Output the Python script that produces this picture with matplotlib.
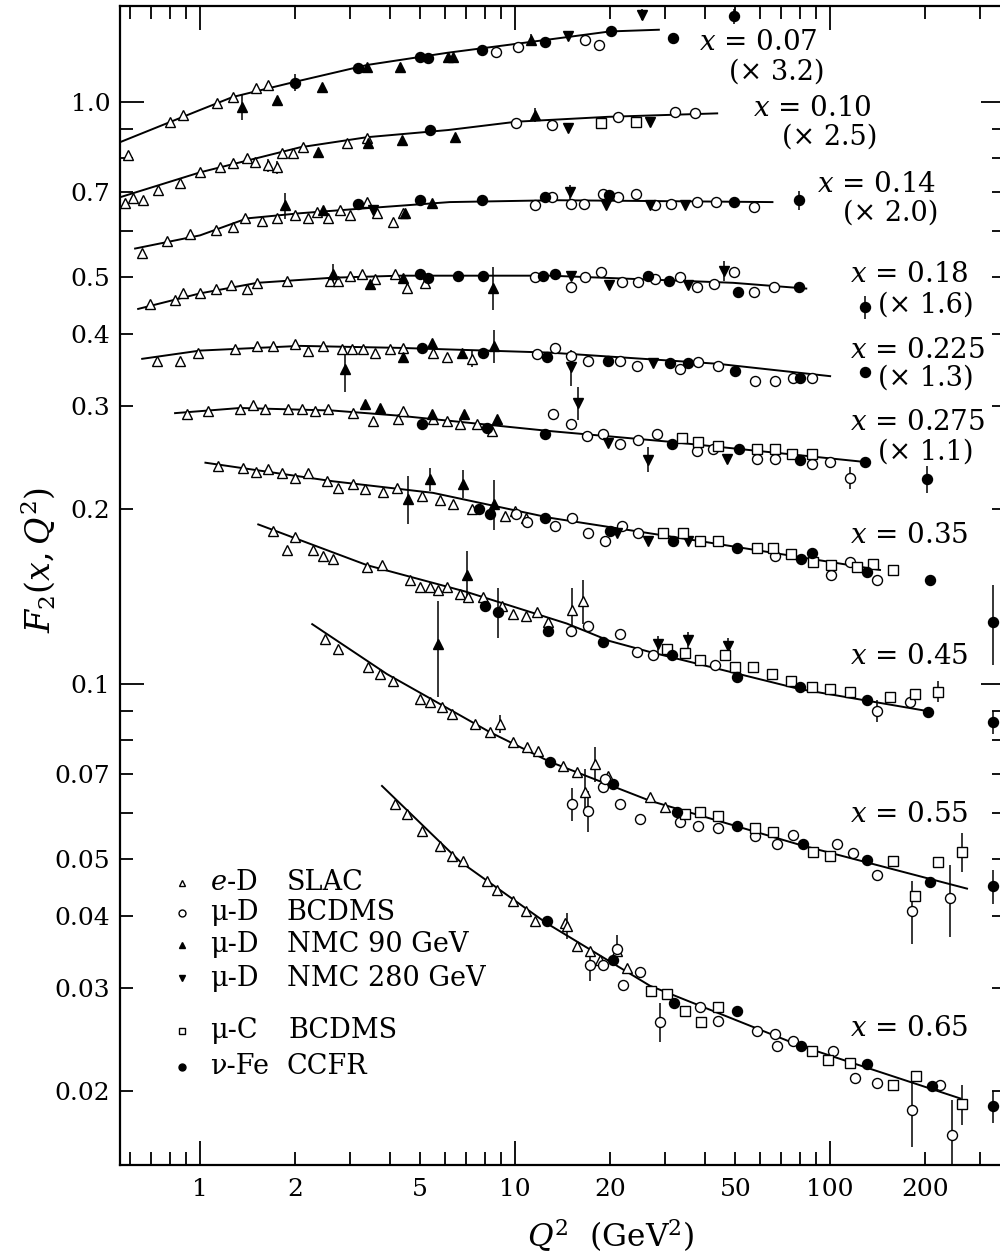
import matplotlib
matplotlib.use("Agg")
import matplotlib.pyplot as plt
from matplotlib.ticker import FixedLocator, FuncFormatter

plt.rcParams['font.family'] = ['DejaVu Serif']
plt.rcParams['mathtext.fontset'] = 'dejavuserif'

# ---------------- data ----------------
bin_x = ["0.07", "0.10", "0.14", "0.18", "0.225", "0.275", "0.35", "0.45", "0.55", "0.65"]
bin_scale = ["3.2", "2.5", "2.0", "1.6", "1.3", "1.1", None, None, None, None]

curve_q2 = [
    [0.557, 1.0, 1.27, 2.0, 3.4, 6.1, 10, 20, 28.6],
    [0.557, 1.0, 2.08, 3.39, 6.13, 10.1, 19.7, 43.8],
    [0.622, 1.0, 1.41, 2.08, 3.39, 6.2, 13.4, 65.6],
    [0.636, 1.0, 1.52, 2.64, 4.31, 12.9, 49.2, 84],
    [0.655, 1.0, 2.08, 4.31, 12.9, 43.8, 100],
    [0.833, 1.34, 2.64, 4.31, 12.9, 30.3, 126],
    [1.04, 2.64, 5.49, 12.9, 38.6, 144],
    [1.53, 3.39, 7.0, 14.6, 20, 26.8, 80, 212],
    [2.27, 3.92, 8.3, 12.9, 26.8, 80.3, 272],
    [3.78, 6.7, 12.6, 26.8, 80.3, 259],
]
curve_f2 = [
    [0.853, 0.969, 1.02, 1.083, 1.158, 1.215, 1.258, 1.322, 1.331],
    [0.686, 0.757, 0.836, 0.870, 0.895, 0.925, 0.943, 0.956],
    [0.560, 0.590, 0.631, 0.644, 0.657, 0.673, 0.678, 0.673],
    [0.441, 0.469, 0.489, 0.499, 0.503, 0.503, 0.489, 0.478],
    [0.362, 0.374, 0.381, 0.378, 0.371, 0.355, 0.338],
    [0.292, 0.298, 0.295, 0.289, 0.272, 0.261, 0.241],
    [0.240, 0.223, 0.213, 0.193, 0.176, 0.157],
    [0.188, 0.160, 0.144, 0.127, 0.1185, 0.1135, 0.098, 0.0895],
    [0.1267, 0.104, 0.0827, 0.0735, 0.063, 0.0529, 0.0445],
    [0.0668, 0.0495, 0.0388, 0.0303, 0.0239, 0.0194],
]

# e-D SLAC
slac_q2 = [
    [0.59, 0.80, 0.88, 1.13, 1.27, 1.50, 1.64],
    [0.578, 0.613, 0.659, 0.736, 0.864, 1.0, 1.157, 1.27, 1.41, 1.495, 1.64, 1.76, 1.82, 1.97, 2.12, 2.93, 3.39],
    [0.655, 0.786, 0.93, 1.12, 1.27, 1.39, 1.57, 1.76, 2.0, 2.2, 2.35, 2.55, 2.78, 3.0, 3.39, 3.65, 4.1, 4.4],
    [0.694, 0.833, 0.88, 1.0, 1.12, 1.25, 1.41, 1.52, 1.89, 2.58, 2.74, 3.0, 3.27, 3.6, 4.16, 4.54, 5.18],
    [0.73, 0.864, 0.985, 1.29, 1.52, 1.71, 2.0, 2.2, 2.46, 2.82, 3.04, 3.29, 3.6, 4.01, 4.4, 5.49, 6.08, 7.3],
    [0.91, 1.06, 1.34, 1.47, 1.61, 1.9, 2.1, 2.32, 2.55, 3.06, 3.54, 4.25, 4.4, 5.49, 6.08, 6.7, 7.57, 8.46],
    [1.14, 1.37, 1.5, 1.64, 1.82, 2.0, 2.2, 2.53, 2.74, 3.06, 3.34, 3.81, 4.22, 5.07, 5.78, 6.36, 7.3, 9.3, 10.0, 10.8],
    [1.7, 1.89, 2.0, 2.28, 2.46, 2.64, 3.39, 3.78, 4.64, 5.0, 5.37, 5.7, 6.08, 6.7, 7.1, 7.9, 9.1, 9.87, 10.8, 11.7, 12.7, 15.2, 16.4],
    [2.49, 2.74, 3.42, 3.73, 4.1, 5.0, 5.37, 5.86, 6.3, 7.46, 8.3, 8.95, 9.87, 10.9, 11.8, 14.2, 15.7, 16.7, 17.9, 19.7, 26.8, 29.9],
    [4.16, 4.54, 5.07, 5.78, 6.3, 6.83, 8.15, 8.77, 9.87, 10.8, 11.6, 14.4, 14.6, 15.7, 17.3, 18.6, 21, 22.6],
]
slac_f2 = [
    [0.81, 0.924, 0.95, 0.996, 1.02, 1.057, 1.07],
    [0.670, 0.683, 0.678, 0.705, 0.725, 0.757, 0.773, 0.785, 0.801, 0.788, 0.779, 0.773, 0.817, 0.817, 0.836, 0.850, 0.867],
    [0.551, 0.578, 0.594, 0.602, 0.609, 0.631, 0.624, 0.631, 0.639, 0.631, 0.646, 0.631, 0.651, 0.639, 0.672, 0.644, 0.621, 0.644],
    [0.450, 0.456, 0.469, 0.469, 0.478, 0.484, 0.478, 0.489, 0.493, 0.493, 0.493, 0.503, 0.507, 0.497, 0.507, 0.480, 0.489],
    [0.359, 0.359, 0.371, 0.377, 0.381, 0.381, 0.384, 0.374, 0.381, 0.377, 0.377, 0.377, 0.371, 0.377, 0.378, 0.371, 0.364, 0.362],
    [0.291, 0.295, 0.297, 0.301, 0.297, 0.297, 0.297, 0.295, 0.297, 0.292, 0.283, 0.285, 0.295, 0.285, 0.283, 0.280, 0.280, 0.272],
    [0.237, 0.235, 0.231, 0.234, 0.230, 0.226, 0.230, 0.223, 0.217, 0.221, 0.216, 0.214, 0.217, 0.210, 0.207, 0.204, 0.200, 0.194, 0.198, 0.193],
    [0.183, 0.17, 0.179, 0.17, 0.166, 0.164, 0.159, 0.16, 0.151, 0.147, 0.147, 0.145, 0.147, 0.143, 0.141, 0.141, 0.136, 0.132, 0.131, 0.133, 0.128, 0.134, 0.139],
    [0.1195, 0.1148, 0.107, 0.104, 0.101, 0.0942, 0.0931, 0.0913, 0.0889, 0.0854, 0.0827, 0.0854, 0.0795, 0.078, 0.0767, 0.0724, 0.0706, 0.0653, 0.0729, 0.0695, 0.064, 0.0615],
    [0.0622, 0.0598, 0.056, 0.0527, 0.0507, 0.0497, 0.0459, 0.0442, 0.0423, 0.0408, 0.0392, 0.0388, 0.0384, 0.0354, 0.0347, 0.0335, 0.0348, 0.0325],
]

# mu-D BCDMS
bcdms_d_q2 = [
    [8.67, 10.25, 16.7, 18.5],
    [10.1, 13.1, 21.2, 32.1, 37.3],
    [11.6, 13.1, 15.0, 16.5, 19.0, 21.2, 24.2, 27.9, 31.2, 37.7, 43.3, 57.4],
    [11.6, 15.0, 16.7, 18.7, 21.8, 24.5, 27.9, 33.3, 37.8, 42.8, 49.7, 57.4, 66.5],
    [11.7, 13.4, 15.0, 17.0, 21.5, 24.4, 33.4, 38.0, 44.1, 57.8, 67, 76.5, 87.6],
    [13.2, 15.0, 16.9, 19.0, 21.5, 24.6, 28.2, 37.8, 42.6, 58.6, 67, 87.6, 100, 116],
    [10.1, 10.9, 13.4, 15.2, 17.0, 19.3, 21.8, 24.6, 67, 101, 116, 141],
    [15, 17, 21.5, 24.4, 27.4, 43, 141, 179],
    [15.2, 17, 19, 21.5, 25, 19.3, 33.4, 38, 44.1, 57.8, 68, 76.5, 105, 118, 141, 182, 240],
    [17.3, 19, 21, 22, 25, 28.9, 38.6, 44.1, 58.6, 67, 68, 76.5, 102, 120, 141, 182, 224, 243],
]
bcdms_d_f2 = [
    [1.221, 1.245, 1.279, 1.254],
    [0.919, 0.913, 0.943, 0.962, 0.956],
    [0.665, 0.687, 0.669, 0.669, 0.696, 0.687, 0.696, 0.665, 0.669, 0.673, 0.673, 0.660],
    [0.50, 0.481, 0.50, 0.51, 0.49, 0.49, 0.497, 0.50, 0.481, 0.487, 0.51, 0.471, 0.481],
    [0.369, 0.378, 0.366, 0.359, 0.359, 0.352, 0.348, 0.357, 0.352, 0.332, 0.332, 0.336, 0.335],
    [0.291, 0.280, 0.267, 0.269, 0.258, 0.263, 0.269, 0.251, 0.253, 0.244, 0.244, 0.239, 0.241, 0.226],
    [0.196, 0.19, 0.187, 0.193, 0.182, 0.176, 0.187, 0.182, 0.166, 0.154, 0.162, 0.151],
    [0.1235, 0.126, 0.122, 0.1135, 0.112, 0.108, 0.090, 0.093],
    [0.0622, 0.0606, 0.0666, 0.0622, 0.0587, 0.0687, 0.058, 0.0569, 0.0565, 0.0547, 0.053, 0.055, 0.053, 0.0513, 0.0469, 0.0408, 0.0428],
    [0.0329, 0.0329, 0.035, 0.0304, 0.032, 0.0263, 0.0279, 0.0264, 0.0253, 0.025, 0.0239, 0.0244, 0.0234, 0.021, 0.0206, 0.0185, 0.0205, 0.0168],
]

# mu-D NMC 90 GeV
nmc90_q2 = [
    [1.36, 1.76, 2.44, 3.39, 4.31, 6.13, 6.37, 11.2],
    [2.37, 3.41, 4.37, 6.45, 11.6],
    [1.86, 2.46, 4.48, 5.45],
    [2.64, 3.46, 4.4, 8.5],
    [2.89, 4.4, 5.45, 6.8, 8.6],
    [3.34, 3.73, 5.45, 6.9, 8.77],
    [4.57, 5.37, 6.83, 8.6],
    [5.7, 7.03],
    [],
    [],
]
nmc90_f2 = [
    [0.98, 1.008, 1.06, 1.149, 1.149, 1.196, 1.197, 1.279],
    [0.820, 0.850, 0.860, 0.871, 0.950],
    [0.664, 0.651, 0.644, 0.670],
    [0.507, 0.487, 0.499, 0.480],
    [0.348, 0.364, 0.386, 0.370, 0.381],
    [0.303, 0.298, 0.291, 0.291, 0.285],
    [0.208, 0.225, 0.221, 0.204],
    [0.117, 0.154],
    [],
    [],
]

# mu-D NMC 280 GeV
nmc280_q2 = [
    [14.7, 25.2],
    [14.7, 26.8],
    [3.55, 14.9, 19.4, 26.8, 34.6],
    [15.0, 19.9, 35.5, 46.1],
    [15.0, 27.4],
    [15.8, 19.7, 26.4, 47],
    [21, 26.4, 35.3],
    [28.5, 35.3, 47.3],
    [],
    [],
]
nmc280_f2 = [
    [1.296, 1.413],
    [0.901, 0.925],
    [0.651, 0.70, 0.665, 0.665, 0.665],
    [0.503, 0.484, 0.484, 0.513],
    [0.35, 0.356],
    [0.304, 0.259, 0.243, 0.244],
    [0.182, 0.176, 0.176],
    [0.117, 0.119, 0.116],
    [],
    [],
]

# mu-C BCDMS
bcdms_c_q2 = [
    [],
    [18.7, 24.2],
    [],
    [],
    [],
    [33.8, 38, 44.1, 58.6, 67, 75.5, 87.6],
    [29.5, 34.2, 38.6, 44.1, 58.6, 66, 74.9, 88, 101, 122, 137, 158],
    [30.4, 34.5, 38.6, 46.4, 50, 56.9, 65.4, 74.9, 87.6, 100, 116, 155, 186, 220],
    [34.5, 38.6, 44.1, 57.8, 66, 88, 100, 158, 186, 220, 262],
    [27, 30.3, 34.5, 39, 44.1, 87.6, 98.5, 116, 158, 188, 262],
]
bcdms_c_f2 = [
    [],
    [0.919, 0.925],
    [],
    [],
    [],
    [0.265, 0.261, 0.256, 0.253, 0.253, 0.248, 0.248],
    [0.182, 0.182, 0.176, 0.176, 0.171, 0.171, 0.167, 0.162, 0.160, 0.159, 0.161, 0.157],
    [0.115, 0.113, 0.11, 0.112, 0.107, 0.107, 0.104, 0.101, 0.099, 0.098, 0.097, 0.095, 0.096, 0.097],
    [0.0599, 0.0603, 0.0592, 0.0565, 0.0557, 0.0515, 0.0507, 0.0497, 0.0433, 0.0495, 0.0515],
    [0.0297, 0.0293, 0.0274, 0.0263, 0.0279, 0.0234, 0.0226, 0.0223, 0.0205, 0.0212, 0.019],
]

# nu-Fe CCFR
ccfr_q2 = [
    [2.0, 3.17, 5.0, 5.3, 7.83, 12.4, 20.2, 31.7, 49.7],
    [5.37],
    [3.17, 5.0, 7.83, 12.4, 19.9, 49.7, 79.6],
    [5.0, 5.3, 6.6, 7.9, 12.3, 13.4, 26.5, 30.9, 51.1, 79.6, 129],
    [5.07, 7.9, 12.6, 19.7, 31, 35.3, 50, 80, 129],
    [5.07, 8.15, 12.4, 31.4, 51.2, 80, 129, 203],
    [7.7, 8.3, 12.4, 20, 31.8, 50.7, 81, 87.6, 131, 207, 329],
    [8.0, 8.84, 12.7, 19, 31.4, 50.7, 80.3, 131, 204, 329],
    [12.9, 20.4, 32.6, 50.7, 82, 131, 207, 329],
    [12.6, 20.4, 32, 50.7, 81, 131, 210, 329],
]
ccfr_f2 = [
    [1.08, 1.144, 1.196, 1.19, 1.229, 1.27, 1.322, 1.288, 1.403],
    [0.895],
    [0.667, 0.678, 0.678, 0.687, 0.691, 0.673, 0.678],
    [0.507, 0.499, 0.503, 0.503, 0.503, 0.506, 0.503, 0.493, 0.471, 0.481, 0.444],
    [0.378, 0.371, 0.364, 0.359, 0.356, 0.356, 0.345, 0.336, 0.343],
    [0.280, 0.275, 0.269, 0.258, 0.253, 0.243, 0.241, 0.225],
    [0.20, 0.196, 0.193, 0.183, 0.176, 0.171, 0.164, 0.168, 0.156, 0.151, 0.128],
    [0.136, 0.133, 0.1235, 0.1183, 0.112, 0.103, 0.099, 0.094, 0.0895, 0.086],
    [0.0735, 0.0673, 0.0603, 0.0571, 0.053, 0.0499, 0.0457, 0.0449],
    [0.0391, 0.0335, 0.0283, 0.0274, 0.0239, 0.0222, 0.0204, 0.0188],
]

# visible error bars (Q2, F2, +- error)
bar_q2 = [1.36, 2.0, 25.2, 49.7, 11.2,
          1.64, 1.76, 11.6,
          1.86, 14.9, 79.6,
          2.64, 8.5, 46.1, 129, 4.54,
          2.89, 8.6, 15.0, 7.3,
          15.8, 26.4, 116, 203,
          4.57, 5.37, 6.83, 8.6, 329,
          5.7, 7.03, 8.84, 15.2, 16.4, 28.5, 35.3, 47.3, 220, 141, 329,
          16.7, 17.9, 8.95, 15.2, 17, 182, 240, 262, 329,
          17.3, 21, 28.9, 182, 243, 262, 329, 14.6]
bar_f2 = [0.98, 1.08, 1.413, 1.403, 1.279,
          0.779, 0.773, 0.950,
          0.664, 0.70, 0.678,
          0.507, 0.480, 0.513, 0.444, 0.480,
          0.348, 0.381, 0.35, 0.362,
          0.304, 0.243, 0.226, 0.225,
          0.208, 0.225, 0.221, 0.204, 0.128,
          0.117, 0.154, 0.133, 0.134, 0.139, 0.117, 0.119, 0.116, 0.097, 0.090, 0.086,
          0.0653, 0.0729, 0.0854, 0.0622, 0.0606, 0.0408, 0.0428, 0.0515, 0.0449,
          0.0329, 0.035, 0.0263, 0.0185, 0.0168, 0.019, 0.0188, 0.0384]
bar_err = [0.05, 0.035, 0.03, 0.04, 0.03,
           0.02, 0.02, 0.025,
           0.035, 0.02, 0.025,
           0.02, 0.04, 0.02, 0.02, 0.012,
           0.03, 0.025, 0.025, 0.012,
           0.02, 0.012, 0.01, 0.012,
           0.02, 0.01, 0.012, 0.02, 0.02,
           0.022, 0.015, 0.013, 0.012, 0.012, 0.004, 0.004, 0.004, 0.004, 0.004, 0.004,
           0.006, 0.005, 0.003, 0.004, 0.005, 0.005, 0.006, 0.004, 0.003,
           0.002, 0.002, 0.002, 0.0025, 0.0025, 0.0015, 0.0012, 0.002]

legend_col1 = [r"$e$-D", "\u03bc-D", "\u03bc-D", "\u03bc-D", "\u03bc-C", "\u03bd-Fe"]
legend_col2 = ["SLAC", "BCDMS", "NMC 90 GeV", "NMC 280 GeV", "BCDMS", "CCFR"]

x_major = [1, 10, 100]
x_minor_labels = [2, 5, 20, 50, 200]
y_major = [0.1, 1.0]
y_minor_labels = [0.02, 0.03, 0.04, 0.05, 0.07, 0.2, 0.3, 0.4, 0.5, 0.7]

# ---------------- figure ----------------
W, H = 1000, 1255
fig = plt.figure(figsize=(W / 100, H / 100), dpi=100)
ax = fig.add_axes([120 / W, 1 - 1165 / H, 885 / W, (1165 - 6) / H])
ax.set_xscale('log')
ax.set_yscale('log')
ax.set_xlim(0.557, 359)
ax.set_ylim(0.01491, 1.462)

for s in ax.spines.values():
    s.set_linewidth(1.6)

styles = [
    (slac_q2, slac_f2, dict(marker='^', mfc='white', mec='black', ms=6.8, mew=1.0)),
    (bcdms_d_q2, bcdms_d_f2, dict(marker='o', mfc='white', mec='black', ms=7.2, mew=1.0)),
    (nmc90_q2, nmc90_f2, dict(marker='^', mfc='black', mec='black', ms=7.0, mew=1.0)),
    (nmc280_q2, nmc280_f2, dict(marker='v', mfc='black', mec='black', ms=7.0, mew=1.0)),
    (bcdms_c_q2, bcdms_c_f2, dict(marker='s', mfc='white', mec='black', ms=7.2, mew=1.0)),
    (ccfr_q2, ccfr_f2, dict(marker='o', mfc='black', mec='black', ms=7.2, mew=1.0)),
]

for i in range(len(bin_x)):
    ax.plot(curve_q2[i], curve_f2[i], color='black', lw=1.4, zorder=2)

ax.errorbar(bar_q2, bar_f2, yerr=bar_err, fmt='none', ecolor='black', elinewidth=1.1, capsize=0, zorder=2.5)

for qs, fs, st in styles:
    for i in range(len(bin_x)):
        if qs[i]:
            ax.plot(qs[i], fs[i], linestyle='none', zorder=3, **st)

# ticks
ax.xaxis.set_major_locator(FixedLocator(x_major))
ax.xaxis.set_major_formatter(FuncFormatter(lambda v, p: f"{v:g}"))
xminor = [m * d for d in (0.1, 1, 10, 100) for m in range(2, 10) if 0.55 < m * d < 360]
ax.xaxis.set_minor_locator(FixedLocator(xminor))
ax.xaxis.set_minor_formatter(FuncFormatter(
    lambda v, p: f"{v:g}" if any(abs(v - t) < 1e-6 * t for t in x_minor_labels) else ""))

ax.yaxis.set_major_locator(FixedLocator(y_major))
ax.yaxis.set_major_formatter(FuncFormatter(lambda v, p: f"{v:.1f}"))
yminor = [m * d for d in (0.01, 0.1, 1) for m in range(2, 10) if 0.0149 < m * d < 1.46]
ax.yaxis.set_minor_locator(FixedLocator(yminor))
ax.yaxis.set_minor_formatter(FuncFormatter(
    lambda v, p: (f"{v:.2f}" if v < 0.1 else f"{v:.1f}") if any(abs(v - t) < 1e-6 for t in y_minor_labels) else ""))

ax.tick_params(which='both', direction='in', top=True, right=True, labelsize=18, width=1.3)
ax.tick_params(which='major', length=17)
ax.tick_params(which='minor', length=9.5)
ax.tick_params(axis='x', which='both', pad=9)
ax.tick_params(axis='y', which='both', pad=7)


def ftxt(x, y, s, **kw):
    fig.text(x / W, 1 - y / H, s, **kw)


# bin labels
lab_pos = [(699, 43), (753, 108), (817, 185), (850, 275), (850, 350), (850, 423),
           (850, 535), (850, 657), (850, 815), (850, 1028)]
mult_pos = [(729, 72), (782, 137), (843, 213), (878, 305), (878, 378), (878, 452)]
for i, lab in enumerate(bin_x):
    x, y = lab_pos[i]
    ftxt(x, y, r"$x$ = " + lab, fontsize=20, ha='left', va='center')
    if bin_scale[i] is not None:
        mx, my = mult_pos[i]
        ftxt(mx, my, "(\u00d7 " + bin_scale[i] + ")", fontsize=19.5, ha='left', va='center')

# axis labels
ftxt(38, 560, r"$F_2(x,Q^2)$", fontsize=24, rotation=90, ha='center', va='center')
ftxt(611, 1236, r"$Q^2$  (GeV$^2$)", fontsize=22.5, ha='center', va='center')

# legend
leg_y = [883, 913, 945, 978, 1031, 1067]
leg_marker = [dict(marker='^', mfc='white', mec='black'),
              dict(marker='o', mfc='white', mec='black'),
              dict(marker='^', mfc='black', mec='black'),
              dict(marker='v', mfc='black', mec='black'),
              dict(marker='s', mfc='white', mec='black'),
              dict(marker='o', mfc='black', mec='black')]
for i in range(6):
    y = leg_y[i]
    fig.lines.append(plt.Line2D([182 / W], [1 - y / H], transform=fig.transFigure,
                                linestyle='none', ms=5, mew=1.0, **leg_marker[i]))
    ftxt(210, y, legend_col1[i], fontsize=19.5, ha='left', va='center')
    ftxt(289 if i == 4 else 287, y, legend_col2[i], fontsize=19.5, ha='left', va='center')

fig.savefig("out.png", dpi=100)
